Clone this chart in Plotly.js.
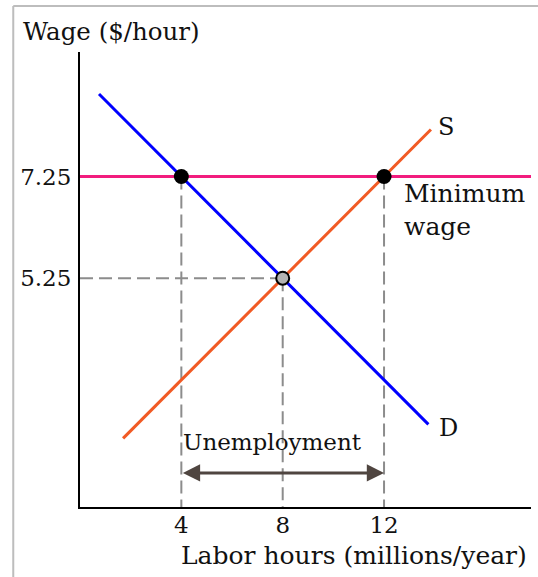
<!DOCTYPE html>
<html>
<head>
<meta charset="utf-8">
<script src="https://cdn.plot.ly/plotly-3.0.1.min.js"></script>
<style>html,body{margin:0;padding:0;background:#fff;}#chart{width:538px;height:577px;}</style>
</head>
<body>
<div id="chart"></div>
<script>
// Data
const demandX = [0.75, 13.75];
const demandY = [8.875, 2.375];
const supplyX = [1.7, 13.85];
const supplyY = [2.1, 8.175];
const minWageX = [0, 17.8];
const minWageY = [7.25, 7.25];
const minWage = 7.25;
const eqWage = 5.25;
const qDemanded = 4;
const qEq = 8;
const qSupplied = 12;
const yTickVals = [5.25, 7.25];
const yTickText = ["5.25", "7.25"];
const xTickVals = [4, 8, 12];
const xTickText = ["4", "8", "12"];
const yBottom = 0.75;

const FONT = "DejaVu Serif, Liberation Serif, serif";
const dashStyle = {color: "#8c8c8c", width: 2, dash: "13px,6px"};

const traces = [
  {x: [qDemanded, qDemanded], y: [minWage, yBottom], mode: "lines", line: dashStyle, hoverinfo: "skip"},
  {x: [qEq, qEq], y: [eqWage, yBottom], mode: "lines", line: dashStyle, hoverinfo: "skip"},
  {x: [qSupplied, qSupplied], y: [minWage, yBottom], mode: "lines", line: dashStyle, hoverinfo: "skip"},
  {x: [0, qEq], y: [eqWage, eqWage], mode: "lines", line: dashStyle, hoverinfo: "skip"},
  {x: minWageX, y: minWageY, mode: "lines", line: {color: "#f21c7e", width: 3}},
  {x: demandX, y: demandY, mode: "lines", line: {color: "#0000ff", width: 3}},
  {x: supplyX, y: supplyY, mode: "lines", line: {color: "#f15a24", width: 3}},
  {x: [qDemanded, qSupplied], y: [minWage, minWage], mode: "markers",
   marker: {color: "#000", size: 15, line: {color: "#000", width: 0}}},
  {x: [qEq], y: [eqWage], mode: "markers",
   marker: {color: "#b3b3b3", size: 13, line: {color: "#000", width: 2}}}
];

const layout = {
  width: 538, height: 577,
  margin: {l: 80, r: 7, t: 52, b: 70},
  showlegend: false,
  paper_bgcolor: "#fff", plot_bgcolor: "#fff",
  font: {family: FONT, size: 22, color: "#111"},
  xaxis: {
    range: [0, 17.8], showgrid: false, zeroline: false,
    showline: true, linecolor: "#000", linewidth: 2,
    tickvals: xTickVals, ticktext: xTickText, ticks: "",
    ticklabelstandoff: -4,
    tickfont: {family: FONT, size: 23, color: "#111"}
  },
  yaxis: {
    range: [yBottom, 9.7], showgrid: false, zeroline: false,
    showline: true, linecolor: "#000", linewidth: 2,
    tickvals: yTickVals, ticktext: yTickText, ticks: "",
    ticklabelstandoff: 2,
    tickfont: {family: FONT, size: 23, color: "#111"}
  },
  shapes: [
    {type: "line", xref: "paper", yref: "paper", x0: -0.148, x1: -0.148, y0: -0.2, y1: 1.101,
     line: {color: "#bdbdbd", width: 2}},
    {type: "line", xref: "paper", yref: "paper", x0: -0.148, x1: 1.05, y0: 1.101, y1: 1.101,
     line: {color: "#bdbdbd", width: 2}}
  ],
  annotations: [
    {xref: "paper", yref: "paper", x: -0.131, y: 1.046, xanchor: "left", yanchor: "middle",
     text: "Wage ($/hour)", showarrow: false, font: {family: FONT, size: 24.5, color: "#111"}},
    {xref: "paper", yref: "paper", x: 0.996, y: -0.106, xanchor: "right", yanchor: "middle",
     text: "Labor hours (millions/year)", showarrow: false, font: {family: FONT, size: 25, color: "#111"}},
    {x: qSupplied, y: 1.42, ax: qDemanded, ay: 1.42, xref: "x", yref: "y", axref: "x", ayref: "y",
     text: "", showarrow: true, arrowside: "end+start", arrowhead: 2, arrowsize: 1.15,
     arrowwidth: 3, arrowcolor: "#4f4540", standoff: 0, startstandoff: 0},
    {x: 7.6, y: 2.03, text: "Unemployment", showarrow: false, xanchor: "center", yanchor: "middle",
     font: {family: FONT, size: 23, color: "#111"}},
    {x: 14.45, y: 8.23, text: "S", showarrow: false, xanchor: "center", yanchor: "middle",
     font: {family: FONT, size: 24, color: "#111"}},
    {x: 14.55, y: 2.3, text: "D", showarrow: false, xanchor: "center", yanchor: "middle",
     font: {family: FONT, size: 24, color: "#111"}},
    {x: 12.72, y: 6.6, text: "Minimum<br>wage", showarrow: false, xanchor: "left", yanchor: "middle",
     align: "left", font: {family: FONT, size: 25, color: "#111"}}
  ]
};

Plotly.newPlot("chart", traces, layout, {displayModeBar: false, staticPlot: true});
</script>
</body>
</html>
